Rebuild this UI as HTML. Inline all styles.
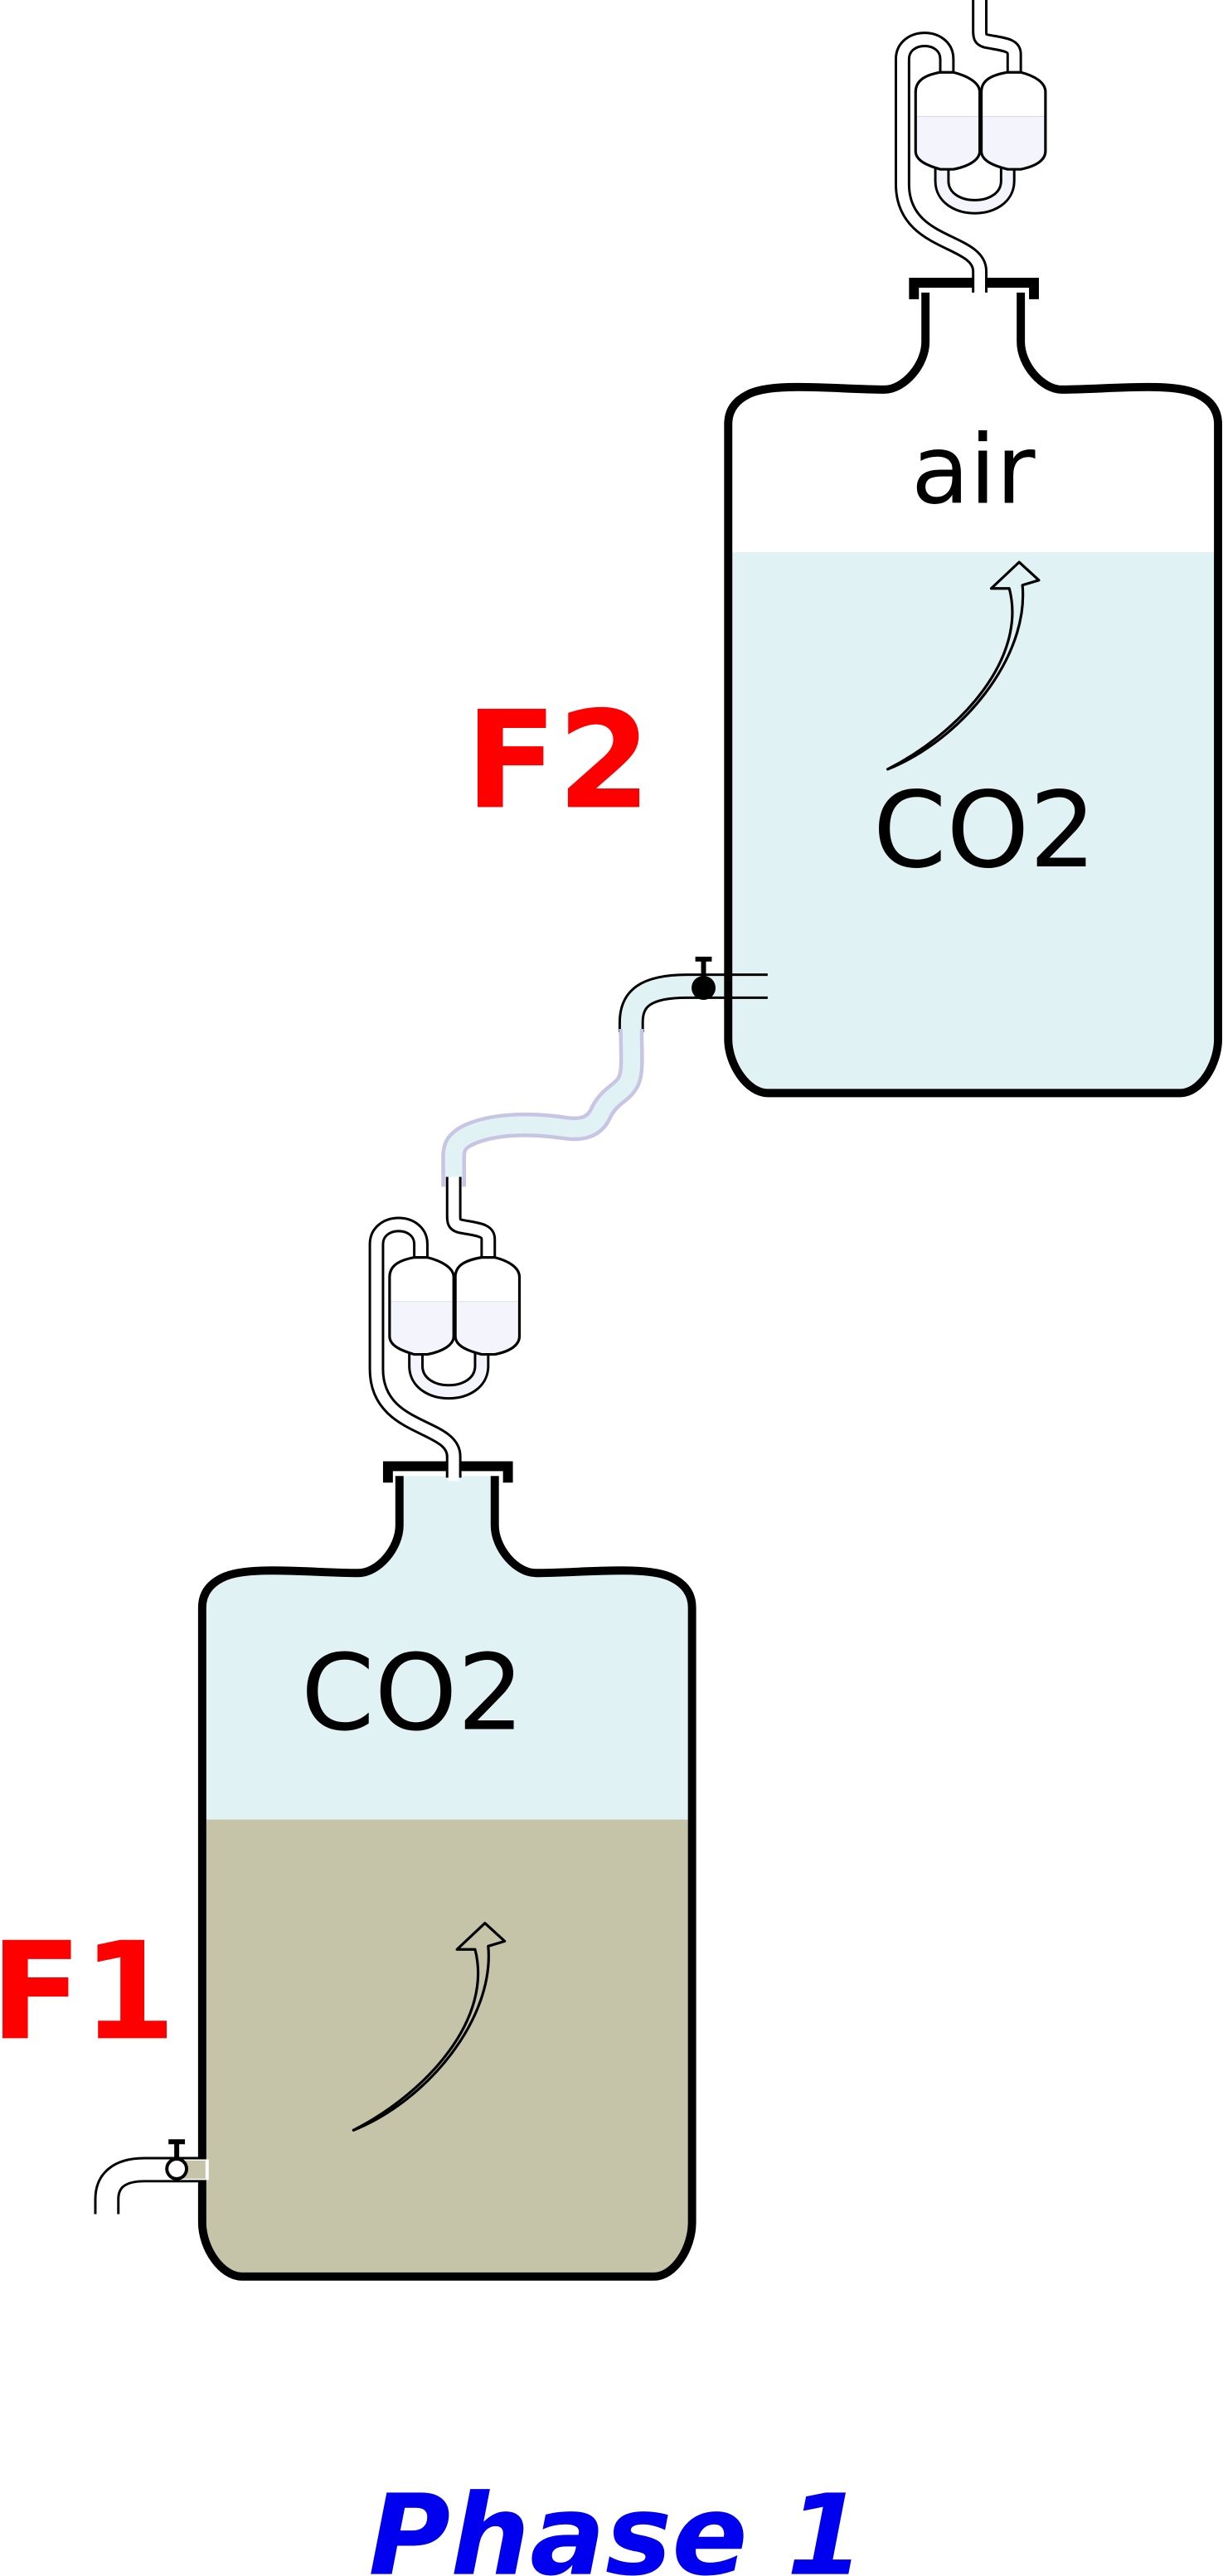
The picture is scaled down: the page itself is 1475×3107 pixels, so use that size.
<!DOCTYPE html>
<html><head><meta charset="utf-8"><style>
html,body{margin:0;padding:0;background:#fff;}
svg{display:block;}
</style></head><body>
<svg width="1475" height="3107" viewBox="0 0 744 1567.2" xmlns="http://www.w3.org/2000/svg">
<defs>
<clipPath id="b2"><path d="M563,178 V208 C563,222 550,237 538,237 C510,237 470,232 455,240 C447,244 443,250 443,258 V632 C443,648 455,665 467,665 H718 C730,665 741,648 741,632 V258 C741,250 737,244 729,240 C714,232 674,237 646,237 C634,237 621,222 621,208 V178 Z"/></clipPath>
<linearGradient id="ch" x1="0" y1="0" x2="0" y2="1"><stop offset="0.45" stop-color="#ffffff"/><stop offset="0.45" stop-color="#b8b8cc"/><stop offset="0.46" stop-color="#f4f4fc"/><stop offset="1" stop-color="#f4f4fc"/></linearGradient>
<g id="airlock">
  <path d="M576,46 V36 C576,20 549,20 549,36 V112 C549,150 596,145 596,165 V178" fill="none" stroke="#000" stroke-width="9.5"/>
  <path d="M576,48 V36 C576,20 549,20 549,36 V112 C549,150 596,145 596,165 V180" fill="none" stroke="#fff" stroke-width="6.5"/>
  <path d="M617,46 V33 C617,27 610,27 600,25 C596,24 596,22 596,18 V-5" fill="none" stroke="#000" stroke-width="9.5"/>
  <path d="M617,48 V33 C617,27 610,27 600,25 C596,24 596,22 596,18 V-5" fill="none" stroke="#fff" stroke-width="6.5"/>
  <path d="M573,98 V110 C573,131 613,131 613,110 V98" fill="none" stroke="#000" stroke-width="9.5"/>
  <path d="M573,96 V110 C573,131 613,131 613,110 V96" fill="none" stroke="#f4f4fc" stroke-width="6.5"/>
  <path d="M572,44 C561,46 557,50 557,56 V92 C557,98 565,101 572,103 H580 C590,101 596,97 596,92 V56 C596,50 588,46 580,44 Z" fill="url(#ch)" stroke="#000" stroke-width="1.6"/>
  <path d="M613,44 C601,46 597,50 597,56 V92 C597,98 605,101 613,103 H621 C631,101 636,97 636,92 V56 C636,50 629,46 621,44 Z" fill="url(#ch)" stroke="#000" stroke-width="1.6"/>
</g>
<g id="arrow">
  <path d="M540,468 C585,445 625,400 614,358 L603,358 L620,342 L632,353 L622,356 C626,400 585,450 540,468 Z" fill="none" stroke="#000" stroke-width="1.6" stroke-linejoin="round"/>
</g>
</defs>

<g clip-path="url(#b2)">
  <rect x="430" y="160" width="320" height="176" fill="#fff"/>
  <rect x="430" y="336" width="320" height="340" fill="#e0f2f4"/>
</g>
<path d="M467,600 H418 C392,600 384,608 384,622 V628" fill="none" stroke="#000" stroke-width="15.5"/>
<path d="M470,600 H418 C392,600 384,608 384,622 V630" fill="none" stroke="#e0f2f4" stroke-width="12.5"/>
<path d="M563,178 V208 C563,222 550,237 538,237 C510,237 470,232 455,240 C447,244 443,250 443,258 V632 C443,648 455,665 467,665 H718 C730,665 741,648 741,632 V258 C741,250 737,244 729,240 C714,232 674,237 646,237 C634,237 621,222 621,208 V178" fill="none" stroke="#000" stroke-width="5"/>
<rect x="446" y="595.5" width="22" height="9.5" fill="#e0f2f4"/>
<circle cx="428" cy="601" r="7.3" fill="#000"/>
<path d="M428,600 V584 M423,583.5 H433" stroke="#000" stroke-width="3"/>
<path d="M556,182 V172 H629 V182" fill="none" stroke="#000" stroke-width="6"/>
<use href="#airlock"/>
<use href="#arrow"/>

<path d="M384,626 C384,640 385,650 383,656 C380,665 372,665 366,676 C362,686 354,688 342,686 C320,683 300,684 286,690 C275,695 276,700 276,708 V722" fill="none" stroke="#c8c4e4" stroke-width="15"/>
<path d="M384,626 C384,640 385,650 383,656 C380,665 372,665 366,676 C362,686 354,688 342,686 C320,683 300,684 286,690 C275,695 276,700 276,708 V722" fill="none" stroke="#e0f2f4" stroke-width="10.5"/>

<g transform="translate(-320,720)">
  <g clip-path="url(#b2)">
    <rect x="430" y="160" width="320" height="227" fill="#e0f2f4"/>
    <rect x="430" y="387" width="320" height="290" fill="#c5c3a8"/>
  </g>
  <path d="M563,178 V208 C563,222 550,237 538,237 C510,237 470,232 455,240 C447,244 443,250 443,258 V632 C443,648 455,665 467,665 H718 C730,665 741,648 741,632 V258 C741,250 737,244 729,240 C714,232 674,237 646,237 C634,237 621,222 621,208 V178" fill="none" stroke="#000" stroke-width="5"/>
  <path d="M556,182 V172 H629 V182" fill="none" stroke="#000" stroke-width="6"/>
</g>
<g transform="translate(-320,721)"><use href="#airlock"/></g>
<path d="M124,1320 H88 C72,1320 65,1327 65,1338 V1347" fill="none" stroke="#000" stroke-width="15.5"/>
<path d="M127,1320 H88 C72,1320 65,1327 65,1338 V1349" fill="none" stroke="#fff" stroke-width="12.5"/>
<rect x="110" y="1314.5" width="15" height="11" fill="#c5c3a8"/>
<circle cx="107.5" cy="1319.5" r="6" fill="#fff" stroke="#000" stroke-width="2"/>
<path d="M107.5,1313 V1304 M102.5,1303 H112.5" stroke="#000" stroke-width="3"/>
<g transform="translate(-325,828)"><use href="#arrow"/></g>

<g font-family="DejaVu Sans, Liberation Sans, sans-serif">
<text x="592" y="306" font-size="58" text-anchor="middle">air</text>
<text x="599" y="527" font-size="64" text-anchor="middle">CO2</text>
<text x="251" y="1052" font-size="64" text-anchor="middle">CO2</text>
<text x="283" y="491" font-size="82" font-weight="bold" fill="#ff0000">F2</text>
<text x="-6" y="1240" font-size="82" font-weight="bold" fill="#ff0000">F1</text>
<text x="375" y="1566" font-size="68" font-weight="bold" font-style="italic" fill="#0000ee" text-anchor="middle">Phase 1</text>
</g>
</svg>
</body></html>
